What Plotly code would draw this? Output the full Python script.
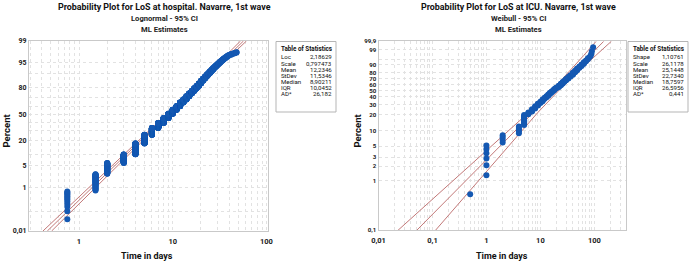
import math
from statistics import NormalDist
import plotly.graph_objects as go

# ---------------- data: LoS at hospital (lognormal panel) ----------------
hosp_days = [0.75, 1.5, 2, 3, 4, 5, 6, 7, 8, 9, 10, 11, 12, 13, 14, 15, 16, 17, 18, 19, 20,
             21, 22, 23, 24, 25, 26, 27, 28, 29, 30, 31, 32, 33, 34, 35, 36, 37, 38, 39, 40,
             42, 44, 46, 48]
hosp_counts = [12, 36, 54, 68, 128, 136, 127, 102, 102, 94, 85, 76, 77, 59, 60, 51, 42, 43, 34, 34, 34,
               25, 22, 20, 17, 15, 14, 12, 10, 9, 8, 7, 7, 5, 5, 5, 3, 4, 3, 3, 2,
               3, 2, 2, 2]
hosp_censored = 41
hosp_loc = 2.18629
hosp_scale = 0.797473
hosp_stat_names = ["Loc", "Scale", "Mean", "StDev", "Median", "IQR", "AD*"]
hosp_stat_values = ["2,18629", "0,797473", "12,2346", "11,5346", "8,90211", "10,0452", "26,182"]
hosp_pct_ticks = [0.01, 1, 5, 20, 50, 80, 95, 99]
hosp_pct_labels = ["0,01", "1", "5", "20", "50", "80", "95", "99"]
hosp_pct_grid = [0.1, 10, 30, 40, 60, 70, 90]
hosp_day_ticks = [1, 10, 100]
hosp_day_labels = ["1", "10", "100"]

# ---------------- data: LoS at ICU (Weibull panel) ----------------
icu_days = [0.5, 1, 2, 4, 5, 6, 7, 8, 9, 10, 11, 12, 13, 14, 15, 16, 17, 18, 19, 20,
            22, 24, 26, 28, 30, 33, 36, 40, 44, 48, 53, 58, 64, 70, 76, 82, 86, 88, 90, 95]
icu_counts = [1, 6, 4, 5, 10, 3, 4, 4, 4, 3, 4, 3, 3, 3, 3, 3, 2, 3, 2, 2,
              4, 4, 4, 3, 4, 4, 4, 5, 4, 4, 3, 3, 3, 2, 2, 1, 1, 1, 1, 1]
icu_censored = 0
icu_shape = 1.10761
icu_scale = 26.1178
icu_stat_names = ["Shape", "Scale", "Mean", "StDev", "Median", "IQR", "AD*"]
icu_stat_values = ["1,10761", "26,1178", "25,1448", "22,7340", "18,7597", "26,5956", "0,441"]
icu_pct_ticks = [0.1, 1, 2, 3, 5, 10, 20, 30, 40, 50, 60, 70, 80, 90, 99, 99.9]
icu_pct_labels = ["0,1", "1", "2", "3", "5", "10", "20", "30", "40", "50", "60", "70", "80", "90", "99", "99,9"]
icu_pct_grid = [95]
icu_day_ticks = [0.01, 0.1, 1, 10, 100]
icu_day_labels = ["0,01", "0,1", "1", "10", "100"]

titles = ["Probability Plot for LoS at hospital. Navarre, 1st wave",
          "Probability Plot for LoS at ICU. Navarre, 1st wave"]
subtitles = ["Lognormal - 95% CI", "Weibull - 95% CI"]

# ---------------- helpers ----------------
ND = NormalDist()
def zq(p):
    return ND.inv_cdf(p)
def wq(p):
    return math.log(-math.log(1.0 - p))

def plot_positions(days, counts, n_total):
    xs, ps = [], []
    i = 0
    for d, c in zip(days, counts):
        for _ in range(c):
            i += 1
            xs.append(d)
            ps.append((i - 0.3) / (n_total + 0.4))
    return xs, ps

W, H = 690, 262
def px(x):
    return x / W
def py(y):
    return 1 - y / H

FONT = "Roboto, sans-serif"
BLUE = "#1458b2"
RED = "#c27878"
GRID = "#e2e2e2"
FRAME = "#c9c9c9"

fig = go.Figure()

# ---------- left panel ----------
n_h = sum(hosp_counts) + hosp_censored
hx, hp = plot_positions(hosp_days, hosp_counts, n_h)
hz = [zq(p) for p in hp]
zmin, zmax = zq(min(hosp_pct_ticks) / 100), zq(max(hosp_pct_ticks) / 100)
zgrid = [zmin + (zmax - zmin) * k / 80 for k in range(81)]
for sgn in (-1, 0, 1):
    xl = []
    for z in zgrid:
        se = hosp_scale * math.sqrt((1 + z * z / 2) / n_h)
        xl.append(math.exp(hosp_loc + z * hosp_scale + sgn * 1.96 * se))
    fig.add_trace(go.Scatter(x=xl, y=zgrid, mode="lines", line=dict(color=RED, width=1),
                             xaxis="x", yaxis="y", hoverinfo="skip", showlegend=False))
fig.add_trace(go.Scatter(x=hx, y=hz, mode="markers", marker=dict(color=BLUE, size=6, line=dict(width=0)),
                         xaxis="x", yaxis="y", showlegend=False))

# ---------- right panel ----------
n_i = sum(icu_counts) + icu_censored
ix, ip = plot_positions(icu_days, icu_counts, n_i)
iw = [wq(p) for p in ip]
wmin, wmax = wq(min(icu_pct_ticks) / 100), wq(max(icu_pct_ticks) / 100)
wgrid = [wmin + (wmax - wmin) * k / 80 for k in range(81)]
b = 1 / icu_shape
for sgn in (-1, 0, 1):
    xl = []
    for w in wgrid:
        se = b * math.sqrt((1.1087 + 0.514 * w + 0.6079 * w * w) / n_i)
        xl.append(math.exp(math.log(icu_scale) + w * b + sgn * 1.96 * se))
    fig.add_trace(go.Scatter(x=xl, y=wgrid, mode="lines", line=dict(color=RED, width=1),
                             xaxis="x2", yaxis="y2", hoverinfo="skip", showlegend=False))
fig.add_trace(go.Scatter(x=ix, y=iw, mode="markers", marker=dict(color=BLUE, size=6, line=dict(width=0)),
                         xaxis="x2", yaxis="y2", showlegend=False))

# ---------- axes ----------
def log_minor(lo_exp, hi_exp):
    vals = []
    for e in range(lo_exp, hi_exp + 1):
        for m in range(1, 10):
            vals.append(m * 10 ** e)
    return vals

def tf(size):
    return dict(family=FONT, size=size, color="#1a1a1a", weight="bold")

common = dict(showline=True, mirror=True, linecolor=FRAME, linewidth=1, automargin=False,
              ticks="", showgrid=True, gridcolor=GRID, griddash="dot", gridwidth=1,
              zeroline=False, fixedrange=True)

def minor(vals):
    return dict(tickmode="array", tickvals=vals, showgrid=True, gridcolor=GRID, griddash="dot", ticks="")

fig.update_layout(
    template="none",
    width=W, height=H, margin=dict(l=0, r=0, t=0, b=0, autoexpand=False),
    paper_bgcolor="white", plot_bgcolor="white", showlegend=False,
    xaxis=dict(common, type="log", domain=[px(29), px(268)],
               range=[math.log10(0.2925), math.log10(104)], tickfont=tf(7.5), ticklabelstandoff=3,
               tickmode="array", tickvals=hosp_day_ticks, ticktext=hosp_day_labels,
               minor=minor(log_minor(-1, 2)), anchor="y"),
    yaxis=dict(common, domain=[py(231), py(41)], range=[zmin, zmax], tickfont=tf(7),
               tickmode="array", tickvals=[zq(p / 100) for p in hosp_pct_ticks], ticktext=hosp_pct_labels,
               minor=minor([zq(p / 100) for p in hosp_pct_grid]), anchor="x"),
    xaxis2=dict(common, type="log", domain=[px(378.5), px(626)],
                range=[-2, (626 - 486.3) / 54], tickfont=tf(7.5), ticklabelstandoff=3,
                tickmode="array", tickvals=icu_day_ticks, ticktext=icu_day_labels,
                minor=minor(log_minor(-2, 2)), anchor="y2"),
    yaxis2=dict(common, domain=[py(230.3), py(41.3)], range=[wmin, wmax], tickfont=tf(6.1),
                tickmode="array", tickvals=[wq(p / 100) for p in icu_pct_ticks], ticktext=icu_pct_labels,
                minor=minor([wq(p / 100) for p in icu_pct_grid]), anchor="x2"),
)

# ---------- titles / labels ----------
ann = []
for cx, t, s in [(164, titles[0], subtitles[0]), (518, titles[1], subtitles[1])]:
    ann.append(dict(x=px(cx), y=py(7), text="<b>%s</b>" % t, font=dict(family=FONT, size=8.9, color="#111111")))
    ann.append(dict(x=px(cx), y=py(18.5), text="<b>%s</b>" % s, font=dict(family=FONT, size=7.6, color="#222222")))
    ann.append(dict(x=px(cx), y=py(29.5), text="<b>ML Estimates</b>", font=dict(family=FONT, size=7.6, color="#222222")))
for cx in (147, 502):
    ann.append(dict(x=px(cx), y=py(255.5), text="<b>Time in days</b>", font=dict(family=FONT, size=9, color="#111111")))
for cx in (5.5, 356.5):
    ann.append(dict(x=px(cx), y=py(131), text="<b>Percent</b>", textangle=-90,
                    font=dict(family=FONT, size=9.5, color="#111111")))

shapes = []
for (bx0, bx1, names, vals) in [(276, 336, hosp_stat_names, hosp_stat_values),
                                (628, 688, icu_stat_names, icu_stat_values)]:
    shapes.append(dict(type="rect", xref="paper", yref="paper", x0=px(bx0), x1=px(bx1),
                       y0=py(112), y1=py(41.5), line=dict(color="#b5b5b5", width=1), fillcolor="white"))
    ann.append(dict(x=px((bx0 + bx1) / 2), y=py(49), text="<b>Table of Statistics</b>",
                    font=dict(family=FONT, size=6.3, color="#111111")))
    for k, (nm, v) in enumerate(zip(names, vals)):
        yy = py(57 + k * 6.1)
        ann.append(dict(x=px(bx0 + 3), y=yy, text=nm, xanchor="left",
                        font=dict(family=FONT, size=6.1, color="#111111")))
        ann.append(dict(x=px(bx1 - 2.5), y=yy, text=v, xanchor="right",
                        font=dict(family=FONT, size=6.1, color="#111111")))

for a in ann:
    a.setdefault("xanchor", "center")
    a.update(xref="paper", yref="paper", yanchor="middle", showarrow=False)
fig.update_layout(annotations=ann, shapes=shapes)

fig.write_html("out.html", config={"displayModeBar": False},
               post_script="document.body.style.margin='0';document.body.style.overflow='hidden';")
